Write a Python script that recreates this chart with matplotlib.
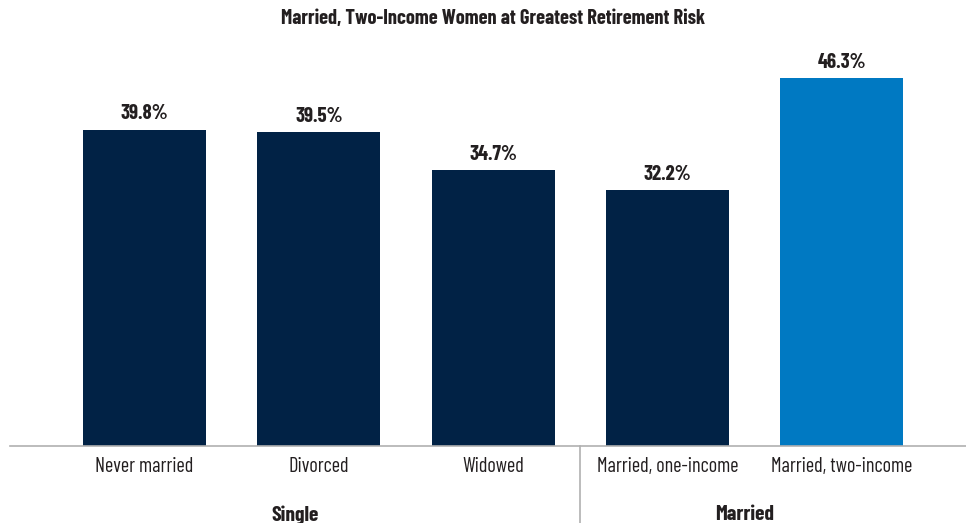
import matplotlib
matplotlib.use("Agg")
import matplotlib.pyplot as plt

categories = ["Never married", "Divorced", "Widowed", "Married, one-income", "Married, two-income"]
values = [39.8, 39.5, 34.7, 32.2, 46.3]
groups = ["Single", "Married"]
group_members = [[0, 1, 2], [3, 4]]
highlight = 4

plt.rcParams["font.family"] = ["Barlow Condensed", "DejaVu Sans"]

navy = "#012245"
blue = "#0079c2"
text_col = "#231f20"

W, H = 966, 523
fig = plt.figure(figsize=(W / 100, H / 100), dpi=100)
# axes in pixel terms: left 10, right 966, baseline at y=446, top at ~40
ax = fig.add_axes([10 / W, (H - 446) / H, (W - 10) / W, 406 / H])

x = list(range(len(values)))
colors = [blue if i == highlight else navy for i in x]
ax.bar(x, values, width=0.706, color=colors)

for xi, v in zip(x, values):
    ax.text(xi, v + 0.8, f"{v:.1f}%", ha="center", va="bottom",
            fontsize=15, fontweight="bold", color=text_col)

xlo, xhi = -0.772, 4.714
ax.set_xlim(xlo, xhi)
ax.set_ylim(0, 51.07)
ax.set_yticks([])
ax.set_xticks(x)
ax.set_xticklabels(categories, fontsize=14.6, color=text_col)
ax.tick_params(axis="x", length=0, pad=8)
for s in ["top", "right", "left"]:
    ax.spines[s].set_visible(False)
ax.spines["bottom"].set_color("#b0b0b0")
ax.spines["bottom"].set_linewidth(1.2)

# group labels centred in their spans, separator between groups
trans = ax.get_xaxis_transform()
sep = (group_members[0][-1] + group_members[1][0]) / 2
spans = [(xlo, sep), (sep, group_members[1][-1] + 0.39)]
for name, (a, b) in zip(groups, spans):
    ax.text((a + b) / 2, -69 / 406, name, transform=trans, ha="center", va="center",
            fontsize=15.5, fontweight="bold", color=text_col, clip_on=False)
ax.plot([sep, sep], [0, -77 / 406], transform=trans, color="#b0b0b0",
        lw=1.2, clip_on=False)

fig.text(493.5 / W, 1 - 19 / H, "Married, Two-Income Women at Greatest Retirement Risk",
         ha="center", va="center", fontsize=14.7, fontweight="bold", color=text_col)

fig.savefig("out.png", dpi=100)
